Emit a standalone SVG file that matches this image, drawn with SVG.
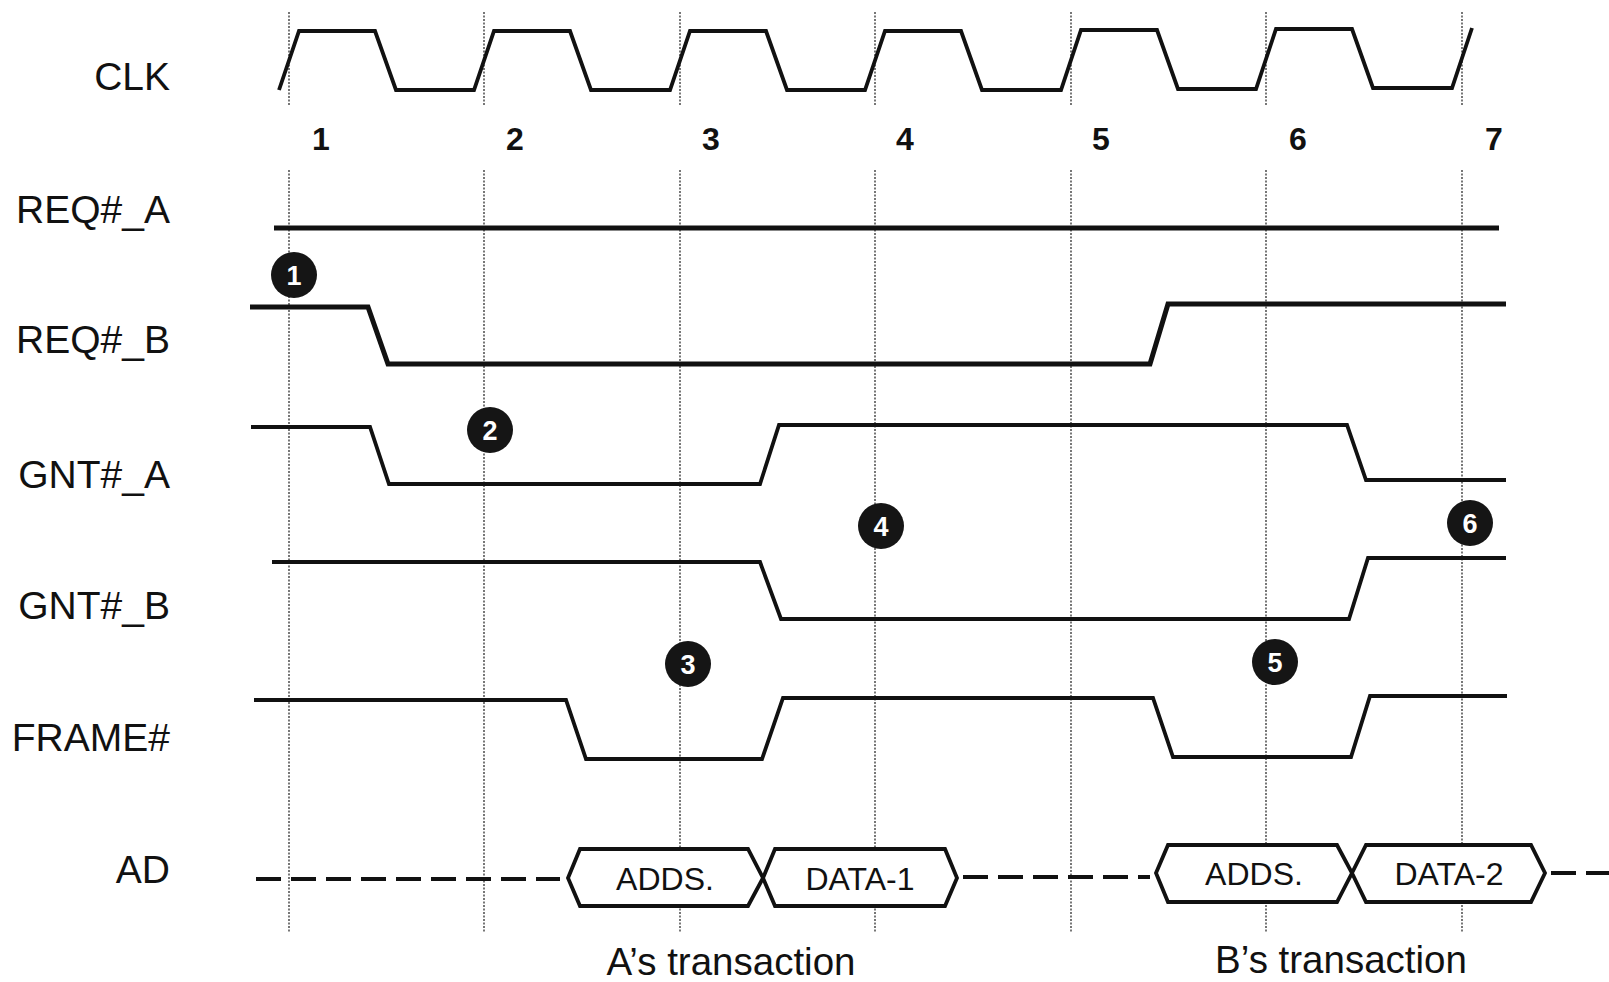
<svg xmlns="http://www.w3.org/2000/svg" width="1609" height="982" viewBox="0 0 1609 982">
<style>
.lbl{font-family:"Liberation Sans",Arial,sans-serif;font-size:39px;fill:#111;text-anchor:end}
.num{font-family:"Liberation Sans",Arial,sans-serif;font-size:32px;font-weight:bold;fill:#111;text-anchor:middle}
.sig{fill:none;stroke:#111;stroke-width:3.8;stroke-linejoin:miter}
.thick{stroke-width:5}
.grid{stroke:#555;stroke-width:1.6;stroke-dasharray:2 1.5;fill:none}
.badge circle{fill:#151515}
.badge text{font-family:"Liberation Sans",Arial,sans-serif;font-size:27px;font-weight:bold;fill:#fff;text-anchor:middle}
.hex{fill:#fff;stroke:#111;stroke-width:3.8}
.hext{font-family:"Liberation Sans",Arial,sans-serif;font-size:32px;fill:#111;text-anchor:middle}
.dash{fill:none;stroke:#111;stroke-width:3.8;stroke-dasharray:25 10}
.cap{font-family:"Liberation Sans",Arial,sans-serif;font-size:38.5px;fill:#111;text-anchor:middle}
</style>
<rect width="1609" height="982" fill="#fff"/>
<g id="connectors">
<g id="grid">
<path class="grid" d="M289,12V105M289,170V932"/>
<path class="grid" d="M484,12V105M484,170V932"/>
<path class="grid" d="M680,12V105M680,170V932"/>
<path class="grid" d="M875,12V105M875,170V932"/>
<path class="grid" d="M1071,12V105M1071,170V932"/>
<path class="grid" d="M1266,12V105M1266,170V932"/>
<path class="grid" d="M1462,12V105M1462,170V932"/>
</g>
</g>
<g id="cycle-numbers">
<text class="num" x="321" y="150">1</text>
<text class="num" x="515" y="150">2</text>
<text class="num" x="711" y="150">3</text>
<text class="num" x="905" y="150">4</text>
<text class="num" x="1101" y="150">5</text>
<text class="num" x="1298" y="150">6</text>
<text class="num" x="1494" y="150">7</text>
</g>
<g id="clk">
<text class="lbl" x="170" y="90">CLK</text>
<path class="sig" d="M279,90 L299,31 H375 L396,90 H474 L494,31 H570 L591,90 H670 L690,31 H766 L787,90 H865 L885,31 H961 L982,90 H1061 L1081,30 H1157 L1178,89 H1256 L1276,29 H1352 L1373,88 H1452 L1472,28"/>
</g>
<g id="req-a">
<text class="lbl" x="170" y="223">REQ#_A</text>
<path class="sig thick" d="M274,228 H1499"/>
</g>
<g id="req-b">
<text class="lbl" x="170" y="353">REQ#_B</text>
<path class="sig thick" d="M250,307 H368 L388,364 H1150 L1168,304 H1506"/>
</g>
<g id="gnt-a">
<text class="lbl" x="170" y="488">GNT#_A</text>
<path class="sig" d="M251,427 H370 L389,484 H760 L779,425 H1347 L1366,480 H1506"/>
</g>
<g id="gnt-b">
<text class="lbl" x="170" y="619">GNT#_B</text>
<path class="sig" d="M272,562 H760 L781,619 H1349 L1368,558 H1506"/>
</g>
<g id="frame">
<text class="lbl" x="170" y="751">FRAME#</text>
<path class="sig" d="M254,700 H566 L586,759 H762 L783,698 H1153 L1173,757 H1351 L1370,696 H1507"/>
</g>
<g id="ad">
<text class="lbl" x="170" y="883">AD</text>
<path class="dash" d="M256,879 H560"/>
<path class="dash" d="M963,877 H1150"/>
<path class="dash" d="M1551,873 H1609"/>
<g id="ad-a-adds">
<polygon class="hex" points="568,878 580,849 748,849 763,878 748,906 580,906"/>
<text class="hext" x="665" y="890">ADDS.</text>
</g>
<g id="ad-a-data">
<polygon class="hex" points="763,878 775,849 945,849 957,878 945,906 775,906"/>
<text class="hext" x="860" y="890">DATA-1</text>
</g>
<g id="ad-b-adds">
<polygon class="hex" points="1156,873 1168,845 1337,845 1352,873 1337,902 1168,902"/>
<text class="hext" x="1254" y="885">ADDS.</text>
</g>
<g id="ad-b-data">
<polygon class="hex" points="1352,873 1366,845 1531,845 1545,873 1531,902 1366,902"/>
<text class="hext" x="1449" y="885">DATA-2</text>
</g>
</g>
<g id="badge-1" class="badge"><circle cx="294" cy="275" r="23"/><text x="294" y="285">1</text></g>
<g id="badge-2" class="badge"><circle cx="490" cy="430" r="23"/><text x="490" y="440">2</text></g>
<g id="badge-3" class="badge"><circle cx="688" cy="664" r="23"/><text x="688" y="674">3</text></g>
<g id="badge-4" class="badge"><circle cx="881" cy="526" r="23"/><text x="881" y="536">4</text></g>
<g id="badge-5" class="badge"><circle cx="1275" cy="662" r="23"/><text x="1275" y="672">5</text></g>
<g id="badge-6" class="badge"><circle cx="1470" cy="523" r="23"/><text x="1470" y="533">6</text></g>
<g id="captions">
<text class="cap" x="731" y="975">A’s transaction</text>
<text class="cap" x="1341" y="973">B’s transaction</text>
</g>
</svg>
